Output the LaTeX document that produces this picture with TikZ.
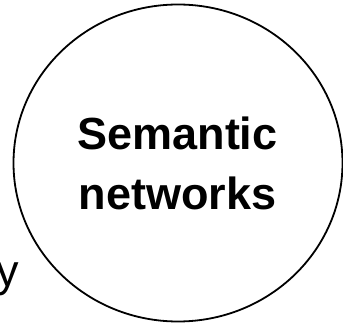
\documentclass[tikz,border=0pt]{standalone}
\usepackage{fontspec}
\setmainfont{Liberation Sans}
\usetikzlibrary{shapes.geometric}
\begin{document}
\begin{tikzpicture}[x=1pt,y=1pt,
  bubble/.style={ellipse,draw,line width=1.8pt,minimum width=329pt,minimum height=317pt,inner sep=0pt},
  title/.style={font=\fontsize{45}{60}\selectfont\bfseries,align=center,inner sep=0pt},
  edgetext/.style={font=\fontsize{45}{54}\selectfont,inner sep=0pt}]
\useasboundingbox (0,0) rectangle (343,324);
\node[bubble] (sn) at (178,161) {};
\node[title,anchor=base] (t1) at (177.5,174) {Semantic};
\node[title,anchor=base] (t2) at (177.5,114) {networks};
\node[edgetext,anchor=base east] (y) at (19,37) {y};
\end{tikzpicture}
\end{document}
